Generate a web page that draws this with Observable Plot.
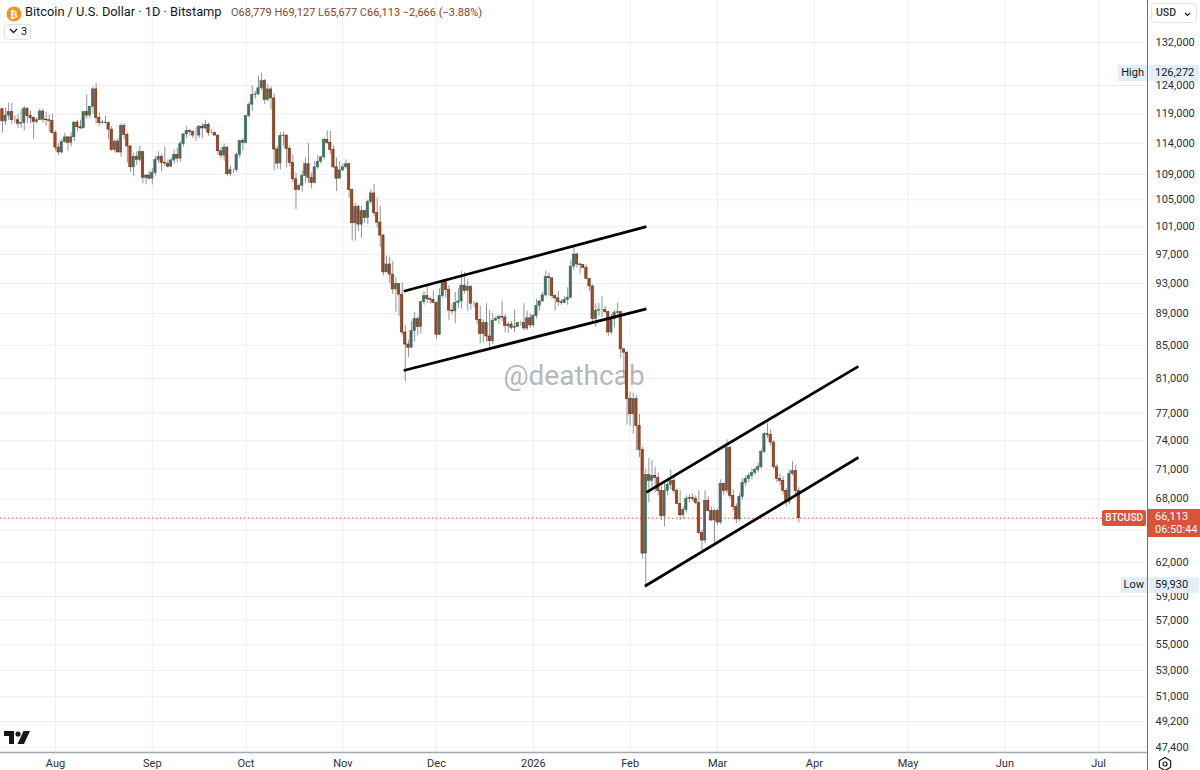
<!DOCTYPE html>
<html><head><meta charset="utf-8">
<script src="https://cdn.jsdelivr.net/npm/d3@7"></script>
<script src="https://cdn.jsdelivr.net/npm/@observablehq/plot@0.6"></script>
<style>
body{margin:0;background:#fff;font-family:Roboto,"Noto Sans",sans-serif;}
#wrap{position:relative;width:1200px;height:770px;overflow:hidden;background:#fff}
#wrap svg.plot{position:absolute;left:0;top:0}
.ov{position:absolute;white-space:nowrap;box-sizing:border-box}
</style></head><body><div id="wrap"></div>
<script>
// ---- data (prices in thousands USD): daily [high, low, close]; open = previous close ----
const firstDay = "2025-07-15";
const firstOpen = 119.8;
const jul2025 = [[119.9,115.7,117.7],[120.0,117.0,118.7],[120.9,117.9,119.3],[120.8,117.2,117.9],[118.6,117.3,117.9],[118.9,116.5,117.3],[119.7,116.5,117.4],[120.2,116.1,119.9],[120.0,117.3,118.6],[119.5,117.3,118.3],[118.5,114.7,117.6],[118.3,117.2,117.9],[119.8,117.8,119.4],[119.8,117.4,118.0],[119.3,116.9,117.9],[118.8,115.8,117.8],[118.9,115.6,115.7]];
const aug2025 = [[116.1,112.7,113.3],[114.0,112.0,112.5],[114.7,112.2,114.2],[115.7,114.0,115.0],[115.1,112.7,114.1],[115.8,113.4,115.0],[117.6,114.3,117.5],[117.9,115.9,116.7],[117.9,116.3,116.5],[119.3,116.5,119.3],[122.3,118.1,118.7],[120.3,118.2,120.2],[123.7,118.9,123.3],[124.4,117.2,118.3],[119.2,116.8,117.4],[117.9,117.2,117.5],[118.6,117.3,117.4],[117.6,114.6,116.3],[116.8,112.7,112.9],[114.6,112.4,114.3],[114.8,112.4,112.5],[117.3,111.7,116.9],[117.3,114.6,115.4],[115.7,110.8,113.5],[113.6,109.3,110.1],[112.4,108.7,111.8],[112.6,110.4,111.3],[113.5,110.9,112.6],[112.6,107.5,108.4],[108.9,107.4,108.8],[109.5,108.1,108.3]];
const sep2025 = [[109.9,107.3,109.2],[111.8,108.7,111.3],[112.6,110.7,111.8],[112.2,109.4,110.8],[113.4,110.2,110.7],[111.3,110.0,110.2],[111.6,110.2,111.2],[112.9,110.6,112.1],[113.2,110.8,111.5],[114.3,110.9,113.9],[115.6,113.4,115.5],[116.8,114.8,116.1],[116.3,115.2,115.9],[116.1,114.8,115.3],[116.7,114.4,115.3],[117.0,114.8,116.8],[117.3,114.8,116.5],[117.9,116.2,117.1],[117.4,115.2,115.7],[116.3,115.5,115.7],[115.9,115.2,115.3],[115.4,112.0,112.7],[113.3,111.5,112.0],[113.9,111.1,113.3],[113.4,108.7,109.0],[110.3,108.6,109.7],[109.8,109.1,109.7],[112.4,109.3,112.1],[114.5,111.6,114.4],[114.8,112.7,114.1]];
const oct2025 = [[118.7,113.9,118.6],[121.0,118.3,120.6],[123.9,119.4,122.3],[122.9,121.6,122.4],[125.7,122.2,123.5],[126.272,123.1,124.8],[125.1,120.6,121.4],[124.2,121.1,123.3],[123.8,119.7,121.7],[122.5,109.5,113.0],[113.5,109.8,110.7],[115.8,109.7,115.2],[115.9,113.6,115.3],[115.4,110.0,113.1],[113.6,110.2,110.8],[112.0,107.6,108.2],[109.2,103.5,106.5],[107.5,106.4,107.2],[109.5,106.2,108.7],[111.7,107.5,110.6],[114.0,107.5,108.4],[109.2,106.7,107.6],[111.0,107.5,110.1],[112.0,109.7,111.0],[111.9,110.6,111.7],[114.9,111.3,114.6],[116.1,113.8,114.1],[116.0,112.2,112.9],[113.6,109.9,110.1],[111.6,106.3,108.3],[111.0,108.3,109.6]];
const nov2025 = [[110.6,109.4,110.1],[111.3,109.8,110.6],[110.7,105.3,106.5],[106.6,98.9,101.5],[104.5,98.9,103.9],[104.2,100.3,101.3],[104.0,99.3,103.3],[103.4,101.5,102.3],[105.0,101.3,104.7],[106.6,104.3,106.0],[107.4,102.5,103.0],[105.3,100.8,101.6],[104.0,98.0,99.7],[99.8,94.0,94.5],[96.8,94.5,95.6],[96.6,93.0,94.2],[96.0,91.5,92.2],[93.8,89.2,92.9],[92.9,88.6,91.5],[93.1,86.2,86.6],[87.5,80.6,85.1],[85.6,83.5,84.7],[88.0,84.7,86.8],[89.2,85.4,88.3],[88.6,86.2,87.3],[90.6,86.4,90.5],[91.9,90.1,91.3],[92.9,90.3,90.9],[91.2,90.2,90.8],[92.0,90.3,90.4]];
const dec2025 = [[90.5,85.7,86.3],[92.3,86.2,91.3],[93.5,91.0,93.3],[93.6,91.0,92.1],[92.7,88.1,89.4],[90.3,88.9,89.3],[91.8,87.7,90.4],[92.3,89.6,90.6],[94.6,89.6,92.7],[94.5,91.6,92.0],[93.5,89.3,92.5],[92.7,89.5,90.3],[90.6,89.8,90.3],[90.5,87.6,88.2],[90.0,85.2,86.4],[88.2,85.3,87.8],[90.3,85.4,86.1],[89.4,84.5,85.5],[89.0,85.1,88.1],[88.6,88.0,88.3],[88.8,87.6,88.6],[90.6,88.0,88.5],[88.9,86.6,87.4],[87.9,86.5,87.6],[88.0,86.9,87.2],[89.5,86.6,87.3],[87.9,87.2,87.8],[88.0,87.4,87.8],[90.3,86.8,87.1],[89.3,86.8,88.4],[89.0,87.1,87.5]];
const jan2026 = [[88.9,87.2,88.7],[90.9,88.3,90.0],[90.7,89.3,90.6],[91.8,90.5,91.4],[94.7,91.2,93.9],[94.4,91.3,93.7],[93.7,90.9,91.3],[91.5,89.4,91.0],[91.9,89.9,90.5],[90.8,90.1,90.4],[91.2,90.3,90.8],[92.4,90.1,91.1],[96.2,90.9,95.3],[98.2,94.8,97.0],[97.2,95.1,95.6],[95.8,94.3,95.5],[95.6,95.0,95.1],[95.5,93.6,93.6],[93.6,91.9,92.6],[92.8,87.9,88.3],[90.3,87.2,89.4],[90.3,88.6,89.5],[91.2,88.5,89.5],[89.9,89.0,89.2],[89.3,86.1,86.6],[88.9,86.3,88.3],[89.4,87.2,89.1],[90.4,88.8,89.2],[89.3,83.4,84.5],[84.6,81.1,84.1],[84.2,75.7,78.6]];
const feb2026 = [[79.4,75.6,76.9],[79.3,74.7,78.6],[79.0,72.9,75.6],[76.9,72.2,73.0],[73.3,62.3,62.8],[71.0,59.93,70.4],[72.1,67.6,69.8],[71.9,69.1,70.3],[71.2,68.6,70.1],[70.6,68.3,68.8],[69.3,65.9,66.3],[69.8,65.3,68.8],[69.9,68.3,69.4],[70.9,68.9,69.8],[70.1,68.5,68.8],[69.0,67.4,67.5],[68.8,65.9,66.4],[67.2,66.0,66.9],[68.3,66.6,68.0],[68.4,67.6,68.1],[68.5,67.7,68.0],[68.3,67.4,67.6],[68.8,64.5,64.7],[65.0,63.1,64.0],[68.8,63.7,67.8],[68.2,66.7,66.8],[67.2,65.8,65.9],[67.0,63.7,66.8]];
const mar2026 = [[67.0,65.4,65.7],[69.9,65.5,69.5],[69.6,68.3,68.8],[74.1,68.5,73.2],[73.4,68.0,68.3],[68.9,66.8,67.2],[67.5,65.6,66.0],[68.5,65.8,68.2],[70.0,67.9,69.6],[70.3,69.2,70.0],[70.6,69.6,70.3],[71.0,69.9,70.6],[71.2,70.3,70.9],[71.6,70.6,71.2],[73.0,71.0,72.8],[74.9,72.6,74.7],[75.9,74.2,74.6],[75.2,73.4,73.8],[74.0,71.0,71.2],[71.5,69.6,70.0],[70.5,69.3,69.8],[70.2,68.4,68.8],[69.0,67.2,67.7],[70.9,67.4,70.5],[71.8,70.3,70.8],[71.4,68.2,68.779],[69.127,65.677,66.113]];

const yTicks = [132000,124000,119000,114000,109000,105000,101000,97000,93000,89000,85000,81000,77000,74000,71000,68000,65000,62000,59000,57000,55000,53000,51000,49200,47400];
const monthTicks = ["2025-08-01","2025-09-01","2025-10-01","2025-11-01","2025-12-01","2026-01-01","2026-02-01","2026-03-01","2026-04-01","2026-05-01","2026-06-01","2026-07-01"];
const monthLabels = ["Aug","Sep","Oct","Nov","Dec","2026","Feb","Mar","Apr","May","Jun","Jul"];
const channelLines = [
  {from:"2025-11-20T12:00Z", v1:91950, to:"2026-02-06T05:00Z", v2:101000},
  {from:"2025-11-20T12:00Z", v1:81950, to:"2026-02-06T05:00Z", v2:89630},
  {from:"2026-02-06T05:00Z", v1:68650, to:"2026-04-15T02:00Z", v2:82450},
  {from:"2026-02-05T17:00Z", v1:59890, to:"2026-04-15T02:00Z", v2:72210}
];
const highMark = 126272, lowMark = 59930;
const watermark = "@deathcab";

// ---- build rows ----
const rows = [];
{
  let t = new Date(firstDay + "T00:00Z").getTime(), prev = firstOpen;
  for (const m of [jul2025,aug2025,sep2025,oct2025,nov2025,dec2025,jan2026,feb2026,mar2026]) {
    for (const [h,l,c] of m) {
      rows.push({date:new Date(t), open:prev*1000, high:h*1000, low:l*1000, close:c*1000});
      prev = c; t += 86400000;
    }
  }
}
const last = rows[rows.length-1];
const up = rows.filter(d => d.close >= d.open), down = rows.filter(d => d.close < d.open);
const HALF = 0.37*86400000;
const tickDates = monthTicks.map(s => new Date(s + "T00:00Z"));
const fmt = d3.format(",");
// axis labels hidden behind the last-price tag (as on the reference)
const logDist = v => Math.abs(Math.log(v/last.close));
const axisTicks = yTicks.filter(v => logDist(v) > 0.02);

const plot = Plot.plot({
  width:1200, height:770, marginLeft:0, marginRight:53, marginTop:0, marginBottom:18,
  style:{fontFamily:"Roboto, 'Noto Sans', sans-serif", fontSize:"11px", color:"#2a2e39", background:"transparent"},
  x:{type:"utc", domain:[new Date(Date.UTC(2025,6,14,9,20)), new Date(Date.UTC(2026,6,16,15,50))]},
  y:{type:"log", domain:[47033,140310]},
  marks:[
    Plot.gridY(yTicks, {stroke:"#eceef2", strokeOpacity:1}),
    Plot.gridX(tickDates, {stroke:"#eceef2", strokeOpacity:1}),
    Plot.text([watermark], {frameAnchor:"middle", fontSize:28, fill:"#8a8d96", fillOpacity:0.65}),
    Plot.ruleY([last.close], {stroke:"#d9533b", strokeDasharray:"1.5,2.5", strokeWidth:1}),
    Plot.ruleX(rows, {x:"date", y1:"low", y2:"high", stroke:"#8f929a", strokeWidth:1}),
    Plot.rect(up, {x1:d=>new Date(+d.date-HALF), x2:d=>new Date(+d.date+HALF), y1:"open", y2:"close", fill:"#5a6068", stroke:"#2b7a55", strokeWidth:0.6}),
    Plot.rect(down, {x1:d=>new Date(+d.date-HALF), x2:d=>new Date(+d.date+HALF), y1:"open", y2:"close", fill:"#a9471f", stroke:"#6e2c12", strokeWidth:0.6}),
    Plot.link(channelLines, {x1:d=>new Date(d.from), y1:"v1", x2:d=>new Date(d.to), y2:"v2", stroke:"#000", strokeWidth:2.7}),
    Plot.axisY(axisTicks, {anchor:"right", tickSize:0, tickPadding:8, tickFormat:fmt, fill:"#2a2e39", fontSize:11}),
    Plot.axisX(tickDates, {anchor:"bottom", tickSize:0, tickPadding:7, tickFormat:(d,i)=>monthLabels[i], fill:"#2a2e39", fontSize:11})
  ]
});
plot.classList.add("plot");
const wrap = document.getElementById("wrap");
wrap.appendChild(plot);

const xs = plot.scale("x"), ys = plot.scale("y");
const right = xs.range[1], bottom = ys.range[0];
const svg = d3.select(plot);
svg.append("line").attr("x1",0).attr("x2",right).attr("y1",bottom+0.5).attr("y2",bottom+0.5).attr("stroke","#a5a8b0").attr("stroke-width",1.6);
svg.append("line").attr("x1",right+0.5).attr("x2",right+0.5).attr("y1",0).attr("y2",770).attr("stroke","#6a6d78").attr("stroke-width",1);

function ov(html, style){ const e=document.createElement("div"); e.className="ov"; e.innerHTML=html; Object.assign(e.style, style); wrap.appendChild(e); return e; }

// High / Low tags
for (const [lab, v] of [["High", highMark], ["Low", lowMark]]) {
  const y = ys.apply(v);
  ov(lab, {right:(1200-right)+"px", top:(y-8)+"px", height:"16px", lineHeight:"16px", padding:"0 3px", background:"#e3eefb", color:"#131722", fontSize:"11px"});
  ov(fmt(v), {left:(right+2)+"px", top:(y-8)+"px", width:"50px", height:"16px", lineHeight:"16px", paddingLeft:"6px", background:"#e3eefb", color:"#131722", fontSize:"11px"});
}
// last price tags
{
  const y = ys.apply(last.close);
  ov("BTCUSD", {right:(1200-right+1)+"px", top:(y-8)+"px", height:"16px", lineHeight:"16px", padding:"0 3px", background:"#d9533b", color:"#fff", fontSize:"10px", fontWeight:"500", borderRadius:"2px"});
  ov(fmt(Math.round(last.close))+"<br>06:50:44", {left:(right+1)+"px", top:(y-9)+"px", width:"52px", height:"28px", lineHeight:"13px", padding:"1px 0 0 7px", background:"#d9533b", color:"#fff", fontSize:"11px"});
}
// header
const chg = last.close - last.open, pct = chg/last.open*100;
const vcol = "#8b3a22", lcol = "#5d606b";
const neg = s => s.replace("-", "\u2212");
ov('<svg width="16" height="16" style="vertical-align:-3px"><circle cx="8" cy="8" r="7.5" fill="#f7931a"/><text x="8" y="12" text-anchor="middle" font-size="11" font-weight="bold" fill="#fff" font-family="DejaVu Sans">\u20bf</text></svg>', {left:"6px", top:"4px"});
ov("Bitcoin / U.S. Dollar \u00b7 1D \u00b7 Bitstamp", {left:"25px", top:"3px", fontSize:"12.8px", color:"#131722", lineHeight:"18px"});
ov(`<span style="color:${lcol}">O</span>${fmt(Math.round(last.open))} <span style="color:${lcol}">H</span>${fmt(Math.round(last.high))} <span style="color:${lcol}">L</span>${fmt(Math.round(last.low))} <span style="color:${lcol}">C</span>${fmt(Math.round(last.close))} ${neg(fmt(Math.round(chg)))} (${neg(pct.toFixed(2))}%)`,
   {left:"231px", top:"5px", fontSize:"11px", color:vcol, lineHeight:"16px"});
ov('<svg width="9" height="6" style="margin-right:3px;vertical-align:1px"><polyline points="1,1 4.5,4.5 8,1" fill="none" stroke="#131722" stroke-width="1.3"/></svg>3',
   {left:"4px", top:"24px", width:"27px", height:"16px", lineHeight:"14px", border:"1px solid #e0e3eb", borderRadius:"3px", fontSize:"11px", color:"#131722", paddingLeft:"4px"});
ov('USD<svg width="7" height="5" style="position:absolute;right:5px;top:8px"><polyline points="1,1 3.5,3.5 6,1" fill="none" stroke="#131722" stroke-width="1.1"/></svg>',
   {left:"1151px", top:"3px", width:"46px", height:"20px", lineHeight:"18px", border:"1px solid #e0e3eb", borderRadius:"4px", fontSize:"10.5px", color:"#3a2e39", paddingLeft:"4px", fontWeight:"500"});
// logo and settings icon
ov('<svg width="28" height="16"><path d="M1 1h10v13h-5v-8h-5z" fill="#131722"/><circle cx="15" cy="4" r="2.6" fill="#131722"/><path d="M20.5 1h6.5l-6 13h-6.5z" fill="#131722"/></svg>', {left:"3px", top:"730px"});
ov('<svg width="16" height="16"><polygon points="8,1.5 13.6,4.75 13.6,11.25 8,14.5 2.4,11.25 2.4,4.75" fill="none" stroke="#131722" stroke-width="1.2"/><circle cx="8" cy="8" r="2" fill="none" stroke="#131722" stroke-width="1.2"/></svg>', {left:"1157px", top:"756px"});
</script></body></html>
